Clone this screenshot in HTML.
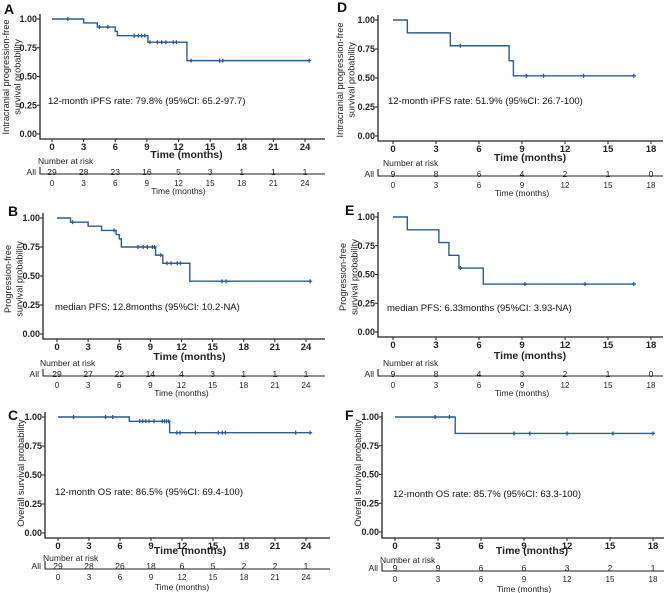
<!DOCTYPE html>
<html><head><meta charset="utf-8"><style>
html,body{margin:0;padding:0;background:#fff}
svg{display:block;font-family:"Liberation Sans",Arial,sans-serif}
</style></head><body>
<svg id="fig" width="669" height="593" viewBox="0 0 669 593" xmlns="http://www.w3.org/2000/svg"></svg>
<script>
// ---- data (event times / survival after event / censor times / numbers at risk) ----
const aEventT=[3,4.3,6.0,6.2,9.1,12.8];
const aEventS=[0.966,0.93,0.893,0.855,0.798,0.638];
const aCensor=[1.5,4.5,5.3,7.8,8.2,8.5,8.8,9.3,10,10.4,10.8,11.5,11.8,13.2,15.9,16.2,24.4];
const aRisk=[29,28,23,16,5,3,1,1,1];
const dEventT=[1,4,8.1,8.4];
const dEventS=[0.889,0.778,0.648,0.519];
const dCensor=[4.7,9.3,10.5,13.3,16.8];
const dRisk=[9,8,6,4,2,1,0];
const bEventT=[1.3,3,4.3,5.7,6.0,6.2,9.5,10.2,12.8];
const bEventS=[0.964,0.929,0.893,0.857,0.82,0.75,0.68,0.61,0.455];
const bCensor=[1.5,5.5,7.8,8.3,8.7,9.2,9.4,10.0,10.6,11,11.6,11.9,15.9,16.3,24.4];
const bRisk=[29,27,22,14,4,3,1,1,1];
const eEventT=[1,3.2,3.9,4.6,6.3];
const eEventS=[0.889,0.778,0.667,0.556,0.417];
const eCensor=[4.7,9.2,13.4,16.8];
const eRisk=[9,8,4,3,2,1,0];
const cEventT=[6.9,10.8];
const cEventS=[0.963,0.865];
const cCensor=[1.5,4.6,5.3,7.9,8.2,8.5,8.8,9.3,10.1,10.3,10.5,10.7,11.5,11.8,13.3,15.5,15.9,16.2,23,24.4];
const cRisk=[29,28,26,18,6,5,2,2,1];
const fEventT=[4.2];
const fEventS=[0.857];
const fCensor=[2.8,3.8,8.3,9.4,12,15.2,18];
const fRisk=[9,9,6,6,3,2,1];
const yTicks=[0,0.25,0.5,0.75,1];
const yTickLabels=["0.00","0.25","0.50","0.75","1.00"];
const xTicks24=[0,3,6,9,12,15,18,21,24];
const xTicks18=[0,3,6,9,12,15,18];

const NS="http://www.w3.org/2000/svg";
const svg=document.getElementById('fig');
const COL="#2c5d92";
function el(tag,attrs,parent){const e=document.createElementNS(NS,tag);for(const k in attrs)e.setAttribute(k,attrs[k]);(parent||svg).appendChild(e);return e;}
function txt(s,attrs,parent){const e=el('text',attrs,parent);e.textContent=s;return e;}

const panels=[
 {id:'a',L:'A',lx:4,ly:14,ax:40,x0:52,tmax:24,x1:305,y1:19,y0:134,xa:139,xend:325,ticks:xTicks24,et:aEventT,es:aEventS,cs:aCensor,risk:aRisk,
  yt:["Intracranial progression-free","survival probability"],ytx:5,yty:77,ann:"12-month iPFS rate: 79.8% (95%CI: 65.2-97.7)",anx:48,any:104,
  nr:[38,161],rr:172,rl:174,rtk:183,rtt:191,xtt:155},
 {id:'d',L:'D',lx:337,ly:12,ax:378,x0:393,tmax:18,x1:651,y1:20,y0:136,xa:141,xend:663,ticks:xTicks18,et:dEventT,es:dEventS,cs:dCensor,risk:dRisk,
  yt:["Intracranial progression-free","survival probability"],ytx:339,yty:80,ann:"12-month iPFS rate: 51.9% (95%CI: 26.7-100)",anx:388,any:104,
  nr:[383,163],rr:174,rl:176,rtk:185,rtt:193,xtt:158},
 {id:'b',L:'B',lx:8,ly:216,ax:43,x0:57,tmax:24,x1:306,y1:218,y0:334,xa:339,xend:325,ticks:xTicks24,et:bEventT,es:bEventS,cs:bCensor,risk:bRisk,
  yt:["Progression-free","survival probability"],ytx:7,yty:279,ann:"median PFS: 12.8months (95%CI: 10.2-NA)",anx:55,any:310,
  nr:[40,363],rr:374,rl:376,rtk:385,rtt:393,xtt:357},
 {id:'e',L:'E',lx:345,ly:215,ax:378,x0:393,tmax:18,x1:651,y1:217,y0:332,xa:337,xend:663,ticks:xTicks18,et:eEventT,es:eEventS,cs:eCensor,risk:eRisk,
  yt:["Progression-free","survival probability"],ytx:342,yty:277,ann:"median PFS: 6.33months (95%CI: 3.93-NA)",anx:387,any:311,
  nr:[383,363],rr:374,rl:376,rtk:385,rtt:393,xtt:356},
 {id:'c',L:'C',lx:8,ly:420,ax:45,x0:58,tmax:24,x1:306,y1:417,y0:533,xa:538,xend:330,ticks:xTicks24,et:cEventT,es:cEventS,cs:cCensor,risk:cRisk,
  yt:["Overall survival probability"],ytx:20,yty:473,ann:"12-month OS rate: 86.5% (95%CI: 69.4-100)",anx:55,any:495,
  nr:[43,558],rr:566,rl:569,rtk:577,rtt:587,xtt:551},
 {id:'f',L:'F',lx:345,ly:420,ax:382,x0:395,tmax:18,x1:653,y1:417,y0:532,xa:538,xend:664,ticks:xTicks18,et:fEventT,es:fEventS,cs:fCensor,risk:fRisk,
  yt:["Overall survival probability"],ytx:357,yty:473,ann:"12-month OS rate: 85.7% (95%CI: 63.3-100)",anx:393,any:497,
  nr:[380,560],rr:568,rl:571,rtk:579,rtt:589,xtt:551}
];

function survAt(p,t){let s=1;for(let i=0;i<p.et.length;i++){if(p.et[i]<=t)s=p.es[i];}return s;}

panels.forEach(p=>{
 const g=el('g',{});
 
 
 const X=t=>p.x0+(p.x1-p.x0)*t/p.tmax;
 const Y=s=>p.y0+(p.y1-p.y0)*s;
 const lab=txt(p.L,{x:p.lx,y:p.ly,'font-size':14,'font-weight':'bold',fill:'#111'},g);
 
 
 const axes=el('path',{d:`M${p.ax},${p.y1-5}V${p.xa}H${p.xend}`,fill:'none',stroke:'#222','stroke-width':1.3},g);
 
 
 yTicks.forEach((v,i)=>{
  el('line',{x1:p.ax-3,x2:p.ax,y1:Y(v),y2:Y(v),stroke:'#222'},g);
  const t=txt(yTickLabels[i],{x:p.ax-3,y:Y(v)+3.2,'font-size':9,'font-weight':'bold','text-anchor':'end',fill:'#222'},g);
  
  
 });
 p.ticks.forEach(v=>{
  el('line',{x1:X(v),x2:X(v),y1:p.xa,y2:p.xa+3,stroke:'#222'},g);
  const t=txt(String(v),{x:X(v),y:p.xa+11,'font-size':9.5,'font-weight':'bold','text-anchor':'middle',fill:'#222'},g);
  
  
 });
 const xt=txt('Time (months)',{x:(p.x0+p.x1)/2+8,y:p.xtt+3,'font-size':10.5,'font-weight':'bold','text-anchor':'middle',fill:'#222'},g);
 
 
 const yg=el('text',{transform:`translate(${p.ytx},${p.yty}) rotate(-90)`,'font-size':9.2,'text-anchor':'middle',fill:'#222'},g);
 
 
 p.yt.forEach((s,i)=>{const ts=el('tspan',{x:0,dy:i?11.5:4},yg);ts.textContent=s;});
 let d=`M${X(0)},${Y(1)}`;
 for(let i=0;i<p.et.length;i++){d+=`H${X(p.et[i])}V${Y(p.es[i])}`;}
 const tEnd=Math.max(...p.cs,...p.et);
 d+=`H${X(tEnd)}`;
 const curve=el('path',{d:d,fill:'none',stroke:COL,'stroke-width':1.4},g);
 
 
 p.cs.forEach(t=>{
  const cx=X(t),cy=Y(survAt(p,t));
  const m=el('path',{d:`M${cx-2},${cy}H${cx+2}M${cx},${cy-2}V${cy+2}`,stroke:COL,'stroke-width':1.3},g);
  
  
 });
 const an=txt(p.ann,{x:p.anx,y:p.any,'font-size':9.5,fill:'#111'},g);
 
 
 const nr=txt('Number at risk',{x:p.nr[0],y:p.nr[1]+3,'font-size':8.5,fill:'#222'},g);
 
 
 const al=txt('All',{x:p.ax-4,y:p.rr+3,'font-size':8.5,'text-anchor':'end',fill:'#222'},g);
 
 
 el('path',{d:`M${p.ax},${p.rr-5}V${p.rl}H${p.xend}`,fill:'none',stroke:'#222','stroke-width':1.1},g);
 p.risk.forEach((n,i)=>{
  const v=p.ticks[i];
  const t=txt(String(n),{x:X(v),y:p.rr+3,'font-size':8.5,'text-anchor':'middle',fill:'#222'},g);
  
  
  const tk=txt(String(v),{x:X(v),y:p.rtk+3,'font-size':8,'text-anchor':'middle',fill:'#222'},g);
  
  
 });
 const rt=txt('Time (months)',{x:(p.x0+p.x1)/2,y:p.rtt+3,'font-size':8.5,'text-anchor':'middle',fill:'#222'},g);
 
 
});
</script>
</body></html>
